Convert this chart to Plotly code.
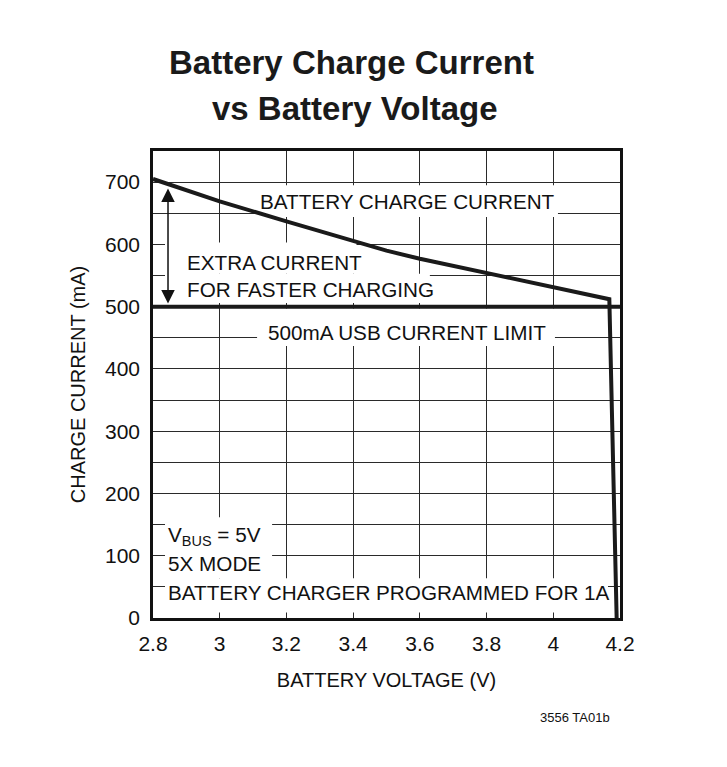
import plotly.graph_objects as go

# Data
voltage = [2.8, 3.0, 3.2, 3.4, 3.5, 3.6, 3.8, 4.0, 4.168, 4.19]
charge_current = [705, 669, 637, 605, 590, 577, 554, 530, 512, 0]
usb_voltage = [2.8, 4.2]
usb_current = [500, 500]
x_ticks = [2.8, 3.0, 3.2, 3.4, 3.6, 3.8, 4.0, 4.2]
x_ticktext = ["2.8", "3", "3.2", "3.4", "3.6", "3.8", "4", "4.2"]
y_ticks = [0, 100, 200, 300, 400, 500, 600, 700]

FONT = "Liberation Sans, Arial, sans-serif"
GRID = "#2a2a2a"
TXT = 20.7

fig = go.Figure()
fig.add_trace(go.Scatter(x=usb_voltage, y=usb_current, mode="lines",
                         line=dict(color="#1a1a1a", width=4), hoverinfo="skip"))
fig.add_trace(go.Scatter(x=voltage, y=charge_current, mode="lines",
                         line=dict(color="#1a1a1a", width=4), hoverinfo="skip"))

# white boxes behind labels (cover gridlines, under traces)
boxes = [
    (3.115, 4.014, 644, 695),   # BATTERY CHARGE CURRENT
    (2.836, 3.41, 553, 603),    # EXTRA CURRENT
    (2.836, 3.63, 506, 553),    # FOR FASTER CHARGING
    (3.112, 4.005, 437, 497),   # 500mA USB CURRENT LIMIT
    (2.836, 3.157, 64, 162),    # VBUS / 5X MODE
    (2.836, 4.164, 9, 64),      # BATTERY CHARGER PROGRAMMED
]
for x0, x1, y0, y1 in boxes:
    fig.add_shape(type="rect", xref="x", yref="y", x0=x0, x1=x1, y0=y0, y1=y1,
                  fillcolor="white", line=dict(width=0), layer="between")

txt = dict(family=FONT, size=TXT, color="#111")
labels = [
    ("BATTERY CHARGE CURRENT", 3.564, 669.5, "center"),
    ("EXTRA CURRENT", 2.896, 571.6, "left"),
    ("FOR FASTER CHARGING", 2.896, 528, "left"),
    ("500mA USB CURRENT LIMIT", 3.561, 459, "center"),
    ("V<sub>BUS</sub> = 5V", 2.839, 132, "left"),
    ("5X MODE", 2.839, 87, "left"),
    ("BATTERY CHARGER PROGRAMMED FOR 1A", 2.839, 40.5, "left"),
]
for t, x, y, xa in labels:
    fig.add_annotation(text=t, x=x, y=y, xref="x", yref="y", xanchor=xa,
                       yanchor="middle", showarrow=False, font=txt)

# double-headed arrow
fig.add_annotation(x=2.845, y=505, ax=2.845, ay=692, xref="x", yref="y",
                   axref="x", ayref="y", text="", showarrow=True,
                   arrowhead=2, startarrowhead=2, arrowside="end+start",
                   arrowsize=1.8, startarrowsize=1.8, arrowwidth=1.5,
                   arrowcolor="#111")

# title lines
fig.add_annotation(text="<b>Battery Charge Current</b>", x=0.424, y=1.1886,
                   xref="paper", yref="paper", xanchor="center", yanchor="middle",
                   showarrow=False, font=dict(family=FONT, size=33, color="#1a1a1a"))
fig.add_annotation(text="<b>vs Battery Voltage</b>", x=0.4325, y=1.092,
                   xref="paper", yref="paper", xanchor="center", yanchor="middle",
                   showarrow=False, font=dict(family=FONT, size=33, color="#1a1a1a"))

fig.add_annotation(text="3556 TA01b", x=0.904, y=-0.2128, xref="paper", yref="paper",
                   xanchor="center", yanchor="middle",
                   showarrow=False, font=dict(family=FONT, size=13, color="#111"))

fig.update_layout(
    width=719, height=759,
    margin=dict(l=145, r=107, t=143, b=149),
    paper_bgcolor="white", plot_bgcolor="white",
    showlegend=False,
    font=dict(family=FONT, color="#111"),
)
fig.update_xaxes(range=[2.8, 4.2], tickvals=x_ticks, ticktext=x_ticktext,
                 showgrid=True, gridcolor=GRID, gridwidth=1.3,
                 showline=True, linecolor="#111", linewidth=2.5, mirror=True,
                 ticks="", zeroline=False, ticklabelstandoff=5,
                 tickfont=dict(family=FONT, size=21, color="#111"),
                 title=dict(text="BATTERY VOLTAGE (V)", standoff=20,
                            font=dict(family=FONT, size=20, color="#111")))
fig.update_yaxes(range=[0, 750], tickvals=y_ticks,
                 showgrid=True, gridcolor=GRID, gridwidth=1.3,
                 minor=dict(dtick=50, showgrid=True, gridcolor=GRID, gridwidth=1.3),
                 showline=True, linecolor="#111", linewidth=2.5, mirror=True,
                 ticks="", zeroline=False, ticklabelstandoff=6,
                 tickfont=dict(family=FONT, size=21, color="#111"),
                 title=dict(text="CHARGE CURRENT (mA)", standoff=15,
                            font=dict(family=FONT, size=20, color="#111")))

fig.write_html("out.html")
